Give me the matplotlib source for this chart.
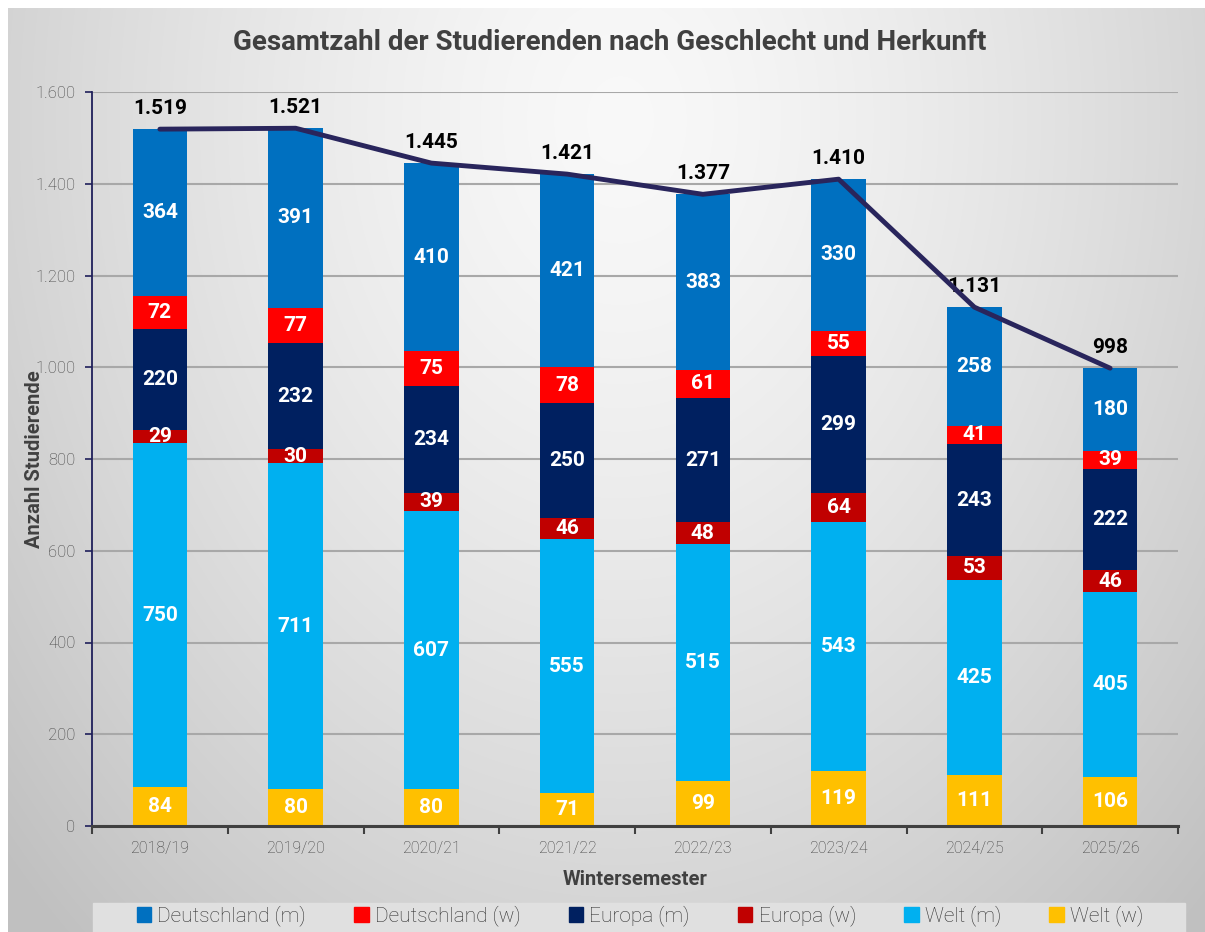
import numpy as np
import matplotlib.pyplot as plt
from matplotlib.patches import Patch, Rectangle

plt.rcParams['font.family'] = ['Roboto', 'DejaVu Sans']

semester = ['2018/19', '2019/20', '2020/21', '2021/22', '2022/23', '2023/24', '2024/25', '2025/26']
welt_w = [84, 80, 80, 71, 99, 119, 111, 106]
welt_m = [750, 711, 607, 555, 515, 543, 425, 405]
europa_w = [29, 30, 39, 46, 48, 64, 53, 46]
europa_m = [220, 232, 234, 250, 271, 299, 243, 222]
deutsch_w = [72, 77, 75, 78, 61, 55, 41, 39]
deutsch_m = [364, 391, 410, 421, 383, 330, 258, 180]
gesamt = [1519, 1521, 1445, 1421, 1377, 1410, 1131, 998]

# stacking order bottom -> top
series = [
    ('Welt (w)', welt_w, '#FFC000'),
    ('Welt (m)', welt_m, '#00B0F0'),
    ('Europa (w)', europa_w, '#C00000'),
    ('Europa (m)', europa_m, '#002060'),
    ('Deutschland (w)', deutsch_w, '#FF0000'),
    ('Deutschland (m)', deutsch_m, '#0070C0'),
]

W, H = 1205, 932
fig = plt.figure(figsize=(W / 100, H / 100), dpi=100)
fig.patch.set_facecolor('white')

# grey radial gradient background panel
bg = fig.add_axes([8 / W, 0, 1 - 8 / W, 1 - 8 / H], zorder=-10)
yy, xx = np.mgrid[8:H, 8:W]
d = np.sqrt(((xx - 620) / 720.0) ** 2 + ((yy - 120) / 950.0) ** 2)
grey = 0.975 - 0.18 * np.clip(d, 0, 1.15) ** 1.4
bg.imshow(np.dstack([grey, grey, grey]), aspect='auto', interpolation='bilinear')
bg.axis('off')

# legend band
fig.patches.append(Rectangle((93 / W, 0), (1185 - 93) / W, (932 - 903) / H,
                             transform=fig.transFigure, color='#e0e0e0', zorder=-5))

ax = fig.add_axes([92 / W, (H - 826) / H, (1178 - 92) / W, (826 - 92) / H])
ax.set_facecolor('none')

x = np.arange(len(semester))
bottom = np.zeros(len(semester))
for name, vals, col in series:
    vals = np.array(vals)
    ax.bar(x, vals, 0.4, bottom=bottom, color=col, zorder=3, label=name)
    for xi, b, v in zip(x, bottom, vals):
        ax.text(xi, b + v / 2, str(v), ha='center', va='center', color='white',
                fontsize=15, fontweight='bold', zorder=5)
    bottom = bottom + vals

ax.plot(x, gesamt, color='#29255c', lw=3.5, zorder=4, solid_capstyle='round')
for xi, t in zip(x, gesamt):
    ax.annotate(f'{t:,}'.replace(',', '.'), (xi, t), xytext=(0, 8), textcoords='offset points',
                ha='center', va='bottom', fontsize=15, fontweight='bold', color='black')

ax.set_xlim(-0.5, len(semester) - 0.5)
ax.set_ylim(0, 1600)
ax.set_yticks(np.arange(0, 1601, 200))
ax.set_yticklabels([f'{v:,}'.replace(',', '.') for v in range(0, 1601, 200)],
                   fontsize=12, fontweight='light', color='#404040')
ax.set_xticks(x)
ax.set_xticklabels(semester, fontsize=11.5, fontweight='light', color='#404040')
ax.set_xticks(np.arange(-0.5, len(semester)), minor=True)
ax.tick_params(axis='x', which='major', length=0, pad=11)
ax.tick_params(axis='x', which='minor', length=6, width=1.5, color='#404040')
ax.tick_params(axis='y', length=5, width=1.2, color='#1f1f5a', pad=7)
ax.grid(axis='y', color='#a8a8a8', lw=1.5, zorder=1)

for s in ['top', 'right']:
    ax.spines[s].set_visible(False)
ax.spines['left'].set_color('#1f1f5a')
ax.spines['left'].set_linewidth(1.3)
ax.spines['bottom'].set_color('#404040')
ax.spines['bottom'].set_linewidth(2.2)
ax.spines['bottom'].set_zorder(6)

ax.set_ylabel('Anzahl Studierende', fontsize=14.5, fontweight='bold', color='#404040')
ax.yaxis.set_label_coords((44 - 92) / (1178 - 92), 0.5)
ax.set_xlabel('Wintersemester', fontsize=14.5, fontweight='bold', color='#404040')
ax.xaxis.set_label_coords(0.5, -(870 - 826) / (826 - 92))

fig.text(610 / W, 1 - 42 / H, 'Gesamtzahl der Studierenden nach Geschlecht und Herkunft',
         ha='center', va='center', fontsize=20, fontweight='bold', color='#404040')

handles = [Patch(color=c, label=n) for n, v, c in series[::-1]]
leg = fig.legend(handles=handles, loc='center', bbox_to_anchor=(640 / W, 1 - 916 / H), ncol=6,
                 frameon=False, handlelength=0.7, handleheight=0.7,
                 handletextpad=0.3, columnspacing=2.3,
                 prop={'size': 15, 'weight': 'light'})
for t in leg.get_texts():
    t.set_color('#303030')

fig.savefig('out.png', dpi=100)
